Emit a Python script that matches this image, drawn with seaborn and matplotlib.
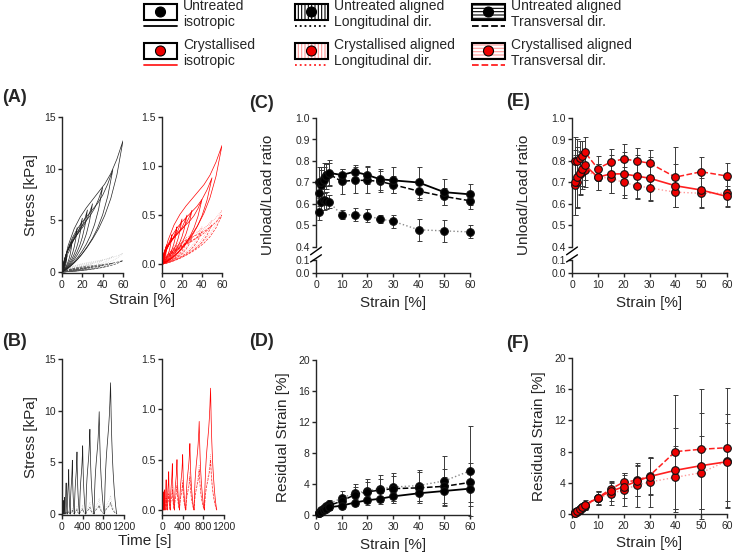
import numpy as np
import pandas as pd
import matplotlib
matplotlib.use("Agg")
import matplotlib.pyplot as plt
import seaborn as sns
from matplotlib.patches import Rectangle, Circle

W, H = 735, 557

# strain steps of the cyclic protocol [%]
strain_levels = [1, 2, 3, 4, 5, 10, 15, 20, 25, 30, 40, 50, 60]
sec_per_pct = 2  # 0.5 %/s

# peak stress reached in each cycle [kPa]
peak_unt_iso = [0.3, 0.6, 1.0, 1.3, 1.6, 3.0, 4.3, 5.2, 6.0, 6.6, 8.2, 9.9, 12.7]
peak_unt_long = [0.02, 0.04, 0.07, 0.09, 0.12, 0.25, 0.4, 0.55, 0.7, 0.85, 1.15, 1.5, 1.8]
peak_unt_trans = [0.02, 0.03, 0.05, 0.07, 0.08, 0.18, 0.27, 0.35, 0.43, 0.5, 0.65, 0.85, 1.1]
peak_cry_iso = [0.08, 0.12, 0.15, 0.18, 0.2, 0.3, 0.38, 0.46, 0.5, 0.55, 0.66, 0.88, 1.21]
peak_cry_long = [0.02, 0.04, 0.06, 0.08, 0.1, 0.15, 0.2, 0.24, 0.28, 0.3, 0.38, 0.45, 0.55]
peak_cry_trans = [0.02, 0.03, 0.05, 0.07, 0.08, 0.12, 0.16, 0.2, 0.24, 0.27, 0.33, 0.4, 0.5]

# loop shape as fraction of peak, read at 0..100 % of the cycle strain
shape_u = [0, 0.1, 0.2, 0.3, 0.4, 0.5, 0.6, 0.7, 0.8, 0.9, 1.0]
load_shape = [0, 0.2, 0.33, 0.42, 0.49, 0.55, 0.61, 0.67, 0.75, 0.86, 1.0]
unload_shape = [0, 0.03, 0.07, 0.12, 0.18, 0.25, 0.33, 0.43, 0.56, 0.74, 1.0]

# unload/load ratio
ratio_unt_iso = [0.70, 0.70, 0.71, 0.73, 0.745, 0.735, 0.75, 0.735, 0.715, 0.71, 0.70, 0.655, 0.645]
ratio_unt_iso_sd = [0.07, 0.07, 0.06, 0.06, 0.06, 0.03, 0.03, 0.04, 0.05, 0.06, 0.07, 0.06, 0.05]
ratio_unt_trans = [0.65, 0.69, 0.72, 0.735, 0.74, 0.705, 0.71, 0.71, 0.705, 0.69, 0.66, 0.635, 0.615]
ratio_unt_trans_sd = [0.06, 0.07, 0.07, 0.05, 0.05, 0.06, 0.06, 0.06, 0.05, 0.04, 0.04, 0.04, 0.04]
ratio_unt_long = [0.565, 0.61, 0.62, 0.615, 0.61, 0.55, 0.55, 0.545, 0.53, 0.52, 0.48, 0.475, 0.47]
ratio_unt_long_sd = [0.04, 0.04, 0.05, 0.04, 0.03, 0.02, 0.03, 0.03, 0.02, 0.03, 0.05, 0.05, 0.03]

ratio_cry_iso = [0.70, 0.725, 0.745, 0.765, 0.78, 0.725, 0.74, 0.74, 0.73, 0.72, 0.685, 0.665, 0.635]
ratio_cry_iso_sd = [0.15, 0.14, 0.1, 0.08, 0.07, 0.06, 0.09, 0.1, 0.1, 0.1, 0.1, 0.08, 0.05]
ratio_cry_trans = [0.80, 0.80, 0.815, 0.825, 0.84, 0.765, 0.795, 0.81, 0.80, 0.79, 0.725, 0.75, 0.73]
ratio_cry_trans_sd = [0.11, 0.1, 0.08, 0.07, 0.07, 0.06, 0.06, 0.07, 0.06, 0.06, 0.14, 0.07, 0.06]
ratio_cry_long = [0.69, 0.70, 0.74, 0.75, 0.76, 0.725, 0.72, 0.70, 0.685, 0.675, 0.655, 0.65, 0.65]
ratio_cry_long_sd = [0.14, 0.12, 0.1, 0.08, 0.08, 0.06, 0.07, 0.07, 0.06, 0.06, 0.07, 0.07, 0.06]

# residual strain [%]
res_unt_iso = [0.2, 0.4, 0.6, 0.8, 1.0, 1.2, 1.6, 1.9, 2.1, 2.4, 2.8, 3.1, 3.4]
res_unt_iso_sd = [0.1, 0.15, 0.2, 0.25, 0.3, 0.4, 0.5, 0.6, 0.7, 0.8, 1.0, 1.8, 2.2]
res_unt_trans = [0.3, 0.5, 0.8, 1.0, 1.2, 1.8, 2.6, 3.0, 3.2, 3.4, 3.5, 3.7, 4.2]
res_unt_trans_sd = [0.1, 0.2, 0.3, 0.4, 0.5, 0.8, 1.0, 1.2, 1.5, 1.6, 2.0, 2.2, 2.5]
res_unt_long = [0.3, 0.6, 0.9, 1.2, 1.4, 2.2, 2.8, 3.1, 3.4, 3.6, 3.8, 4.4, 5.7]
res_unt_long_sd = [0.1, 0.2, 0.3, 0.4, 0.5, 0.9, 1.2, 1.5, 1.7, 1.8, 2.0, 3.2, 5.8]

res_cry_iso = [0.15, 0.4, 0.6, 0.9, 1.1, 2.1, 2.9, 3.5, 4.2, 4.8, 5.6, 6.2, 6.7]
res_cry_iso_sd = [0.1, 0.2, 0.3, 0.4, 0.5, 0.8, 1.2, 1.5, 1.9, 2.4, 5.4, 6.8, 5.0]
res_cry_trans = [0.2, 0.4, 0.7, 0.9, 1.2, 2.1, 3.2, 4.1, 4.3, 4.9, 8.0, 8.3, 8.5]
res_cry_trans_sd = [0.1, 0.2, 0.3, 0.4, 0.6, 0.9, 1.0, 1.1, 2.0, 2.3, 7.3, 7.7, 7.6]
res_cry_long = [0.1, 0.3, 0.5, 0.8, 1.0, 2.0, 2.6, 3.1, 3.7, 4.1, 4.7, 5.3, 6.8]
res_cry_long_sd = [0.1, 0.2, 0.3, 0.4, 0.5, 0.8, 1.4, 2.1, 2.8, 3.2, 4.0, 4.7, 6.0]

sns.set_theme(style="ticks")
plt.rcParams["font.family"] = ["Liberation Sans", "DejaVu Sans"]
plt.rcParams.update({
    "axes.linewidth": 1.0, "xtick.major.width": 1.0, "ytick.major.width": 1.0,
    "xtick.major.size": 3, "ytick.major.size": 3,
    "xtick.labelsize": 7.5, "ytick.labelsize": 7.5,
    "xtick.major.pad": 2, "ytick.major.pad": 1.5,
    "axes.labelsize": 11, "hatch.linewidth": 0.8,
})

fig = plt.figure(figsize=(W / 100, H / 100), dpi=100)


def rect(x0, y0, x1, y1):
    return [x0 / W, 1 - y1 / H, (x1 - x0) / W, (y1 - y0) / H]


def loops(peaks):
    rows = []
    t0 = 0
    for c, (e, p) in enumerate(zip(strain_levels, peaks)):
        for u, s in zip(shape_u, load_shape):
            rows.append((c, u * e, p * s, t0 + u * e * sec_per_pct))
        for u, s in zip(shape_u[::-1], unload_shape[::-1]):
            rows.append((c, u * e, p * s, t0 + (2 - u) * e * sec_per_pct))
        t0 += 2 * e * sec_per_pct
    return pd.DataFrame(rows, columns=["cycle", "strain", "stress", "time"])


unt_sets = [(peak_unt_long, "#c4c4c4", ":"), (peak_unt_trans, "#555555", "--"), (peak_unt_iso, "#222222", "-")]
cry_sets = [(peak_cry_long, "#ff9090", ":"), (peak_cry_trans, "#ff3030", "--"), (peak_cry_iso, "#ff0000", "-")]

loop_axes = [
    (rect(62, 117, 123, 273), unt_sets, "strain", (-0.1, 15), [0, 5, 10, 15], "{:.0f}", (0, 60), [0, 20, 40, 60]),
    (rect(162, 117, 222, 273), cry_sets, "strain", (-0.09, 1.5), [0, 0.5, 1.0, 1.5], "{:.1f}", (0, 60), [0, 20, 40, 60]),
    (rect(62, 359, 124, 515), unt_sets, "time", (-0.1, 15), [0, 5, 10, 15], "{:.0f}", (0, 1200), [0, 400, 800, 1200]),
    (rect(162, 359, 224, 515), cry_sets, "time", (-0.05, 1.5), [0, 0.5, 1.0, 1.5], "{:.1f}", (0, 1200), [0, 400, 800, 1200]),
]
for r, sets, xcol, ylim, yt, fmt, xlim, xt in loop_axes:
    ax = fig.add_axes(r)
    for peaks, col, ls in sets:
        sns.lineplot(data=loops(peaks), x=xcol, y="stress", units="cycle", estimator=None,
                     sort=False, color=col, linestyle=ls, lw=0.5, ax=ax)
    ax.set_xlim(*xlim)
    ax.set_ylim(*ylim)
    ax.set_yticks(yt)
    ax.set_yticklabels([fmt.format(v) for v in yt])
    ax.set_xticks(xt)
    ax.set_xlabel("")
    ax.set_ylabel("")
    sns.despine(ax=ax)

fig.text(31 / W, 1 - 195 / H, "Stress [kPa]", rotation=90, ha="center", va="center", fontsize=11)
fig.text(31 / W, 1 - 437 / H, "Stress [kPa]", rotation=90, ha="center", va="center", fontsize=11)
fig.text(142 / W, 1 - 300 / H, "Strain [%]", ha="center", va="center", fontsize=11)
fig.text(145 / W, 1 - 541 / H, "Time [s]", ha="center", va="center", fontsize=11)


def series(ax, y, sd, color, ls, face, lw, zo):
    ax.errorbar(strain_levels, y, yerr=sd, fmt="none", ecolor="#3a3a3a", elinewidth=0.7,
                capsize=1.8, capthick=0.7, zorder=1, clip_on=False)
    sns.lineplot(x=strain_levels, y=y, ax=ax, color=color, linestyle=ls, lw=lw,
                 marker="o", markersize=5.5, markerfacecolor=face, markeredgecolor="#111111",
                 markeredgewidth=0.8, zorder=zo, clip_on=False)


def ratio_panel(x0, x1, data):
    up = fig.add_axes(rect(x0, 118, x1, 247))
    lo = fig.add_axes(rect(x0, 260, x1, 273))
    for y, sd, color, ls, face, lw, zo in data:
        series(up, y, sd, color, ls, face, lw, zo)
    up.set_ylim(0.4, 1.0)
    up.set_yticks(np.arange(0.4, 1.01, 0.1))
    up.set_yticklabels(["0.4", "0.5", "0.6", "0.7", "0.8", "0.9", "1.0"])
    up.set_xlim(0, 60)
    up.xaxis.set_visible(False)
    sns.despine(ax=up, bottom=True)
    lo.set_ylim(0, 0.1)
    lo.set_yticks([0, 0.1])
    lo.set_yticklabels(["0.0", "0.1"])
    lo.set_xlim(0, 60)
    lo.set_xticks(range(0, 61, 10))
    lo.set_xlabel("Strain [%]", labelpad=4)
    sns.despine(ax=lo)
    kw = dict(color="black", lw=1.0, clip_on=False)
    up.plot([-0.035, 0.035], [-0.06, 0.0], transform=up.transAxes, **kw)
    lo.plot([-0.035, 0.035], [0.85, 1.4], transform=lo.transAxes, **kw)
    fig.text((x0 - 48) / W, 1 - 195 / H, "Unload/Load ratio", rotation=90,
             ha="center", va="center", fontsize=11)


def resid_panel(x0, x1, y0, y1, data):
    ax = fig.add_axes(rect(x0, y0, x1, y1))
    for y, sd, color, ls, face, lw, zo in data:
        series(ax, y, sd, color, ls, face, lw, zo)
    ax.set_ylim(0, 20)
    ax.set_yticks(range(0, 21, 4))
    ax.set_xlim(0, 60)
    ax.set_xticks(range(0, 61, 10))
    ax.set_xlabel("Strain [%]", labelpad=4)
    ax.set_ylabel("Residual Strain [%]", labelpad=6)
    sns.despine(ax=ax)


ratio_panel(316, 470, [
    (ratio_unt_long, ratio_unt_long_sd, "#8a8a8a", ":", "black", 1.0, 3),
    (ratio_unt_trans, ratio_unt_trans_sd, "black", "--", "black", 1.1, 4),
    (ratio_unt_iso, ratio_unt_iso_sd, "black", "-", "black", 1.3, 5),
])
resid_panel(316, 470, 360, 515, [
    (res_unt_long, res_unt_long_sd, "#8a8a8a", ":", "black", 1.0, 3),
    (res_unt_trans, res_unt_trans_sd, "black", "--", "black", 1.1, 4),
    (res_unt_iso, res_unt_iso_sd, "black", "-", "black", 1.3, 5),
])
ratio_panel(572, 727, [
    (ratio_cry_long, ratio_cry_long_sd, "#ff9a9a", ":", "#ee0000", 1.0, 3),
    (ratio_cry_trans, ratio_cry_trans_sd, "#ff2020", "--", "#ee0000", 1.1, 4),
    (ratio_cry_iso, ratio_cry_iso_sd, "#ff2020", "-", "#ee0000", 1.2, 5),
])
resid_panel(572, 727, 358, 514, [
    (res_cry_long, res_cry_long_sd, "#ff9a9a", ":", "#ee0000", 1.0, 3),
    (res_cry_trans, res_cry_trans_sd, "#ff2020", "--", "#ee0000", 1.1, 4),
    (res_cry_iso, res_cry_iso_sd, "#ff2020", "-", "#ee0000", 1.2, 5),
])

# panel letters
for lab, x, y in [("(A)", 2, 98), ("(B)", 2, 342), ("(C)", 249, 103),
                  ("(D)", 249, 341), ("(E)", 506, 102), ("(F)", 506, 343)]:
    fig.text(x / W, 1 - y / H, lab, fontsize=13, fontweight="bold", va="center", ha="left")

# legend drawn as figure-level key
lg = fig.add_axes([0, 0, 1, 1], zorder=-1)
lg.set_xlim(0, W)
lg.set_ylim(H, 0)
lg.axis("off")
legend_entries = [
    (144, 4, "", "black", "black", "-", "Untreated\nisotropic"),
    (144, 43, "", "#ff9a9a", "#ee0000", "-", "Crystallised\nisotropic"),
    (295, 4, "|||||", "black", "black", ":", "Untreated aligned\nLongitudinal dir."),
    (295, 43, "|||||", "#ff9a9a", "#ee0000", ":", "Crystallised aligned\nLongitudinal dir."),
    (472, 4, "-----", "black", "black", "--", "Untreated aligned\nTransversal dir."),
    (472, 43, "-----", "#ff9a9a", "#ee0000", "--", "Crystallised aligned\nTransversal dir."),
]
for x, y, hatch, hcol, dot, ls, txt in legend_entries:
    if hatch:
        lg.add_patch(Rectangle((x, y), 33, 16, fill=False, hatch=hatch, edgecolor=hcol, lw=0))
    lg.add_patch(Rectangle((x, y), 33, 16, fill=False, edgecolor="black", lw=1.5))
    lg.add_patch(Circle((x + 16.5, y + 8), 5, facecolor=dot, edgecolor="black", lw=0.8))
    lcol = "black" if dot == "black" else "#ff2020"
    lg.plot([x, x + 33], [y + 22, y + 22], color=lcol, linestyle=ls, lw=1.3)
    lg.text(x + 39, y + 10, txt, fontsize=10, va="center", ha="left", linespacing=1.15)

fig.savefig("out.png", dpi=100)
plt.close(fig)
